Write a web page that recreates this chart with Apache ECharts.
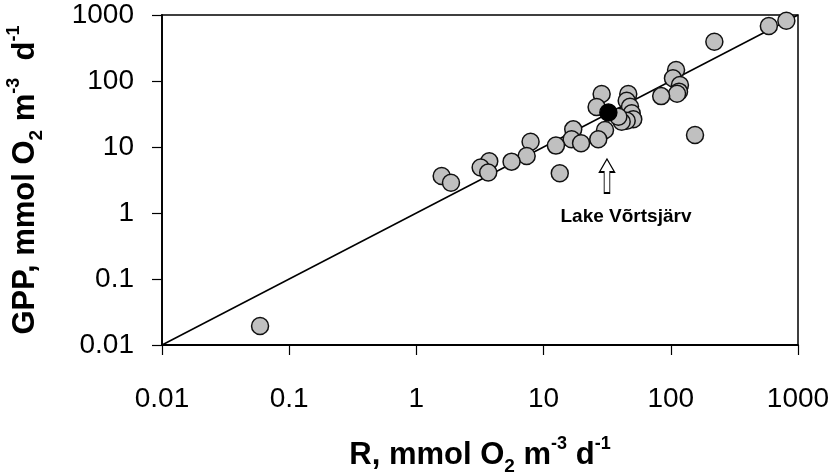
<!DOCTYPE html>
<html>
<head>
<meta charset="utf-8">
<script src="https://cdn.jsdelivr.net/npm/echarts@6/dist/echarts.min.js"></script>
<style>html,body{margin:0;padding:0;background:#fff}#c{width:837px;height:474px}</style>
</head>
<body>
<div id="c"></div>
<script>
// R (x) and GPP (y) values, mmol O2 m-3 d-1
const lakesR   = [810, 590, 220, 110, 104, 118, 116, 112, 84, 155,
                  28.6, 46.3, 45, 26.1, 47.8, 49.3, 50.7, 45, 41.1, 30.4,
                  26.9, 17.1, 16.6, 19.7, 12.5, 13.4, 7.9, 7.36, 5.6, 3.74,
                  3.2, 3.67, 1.58, 1.87, 0.059, 38.7];
const lakesGPP = [820, 680, 394, 147, 110, 87, 69, 64, 59, 15.2,
                  63.5, 63.5, 50.3, 40.4, 40.8, 32.4, 26.3, 25, 24.2, 18.1,
                  13.1, 18.5, 13.1, 11.4, 10.5, 4.0, 12.0, 7.3, 6.0, 6.1,
                  4.9, 4.1, 3.64, 2.88, 0.0194, 28.8];
const vortsjarvR = [32.3];
const vortsjarvGPP = [33.3];
const lineR = [0.01, 1000];
const lineGPP = [0.01, 1000];
const arrowPos = [31.5, 3.64];
const tickLabels = ['0.01', '0.1', '1', '10', '100', '1000'];

const chart = echarts.init(document.getElementById('c'), null, {renderer: 'canvas'});
const font = 'Arial, "Liberation Sans", sans-serif';
const pairs = (a, b) => a.map((v, i) => [v, b[i]]);
const fmt = v => {
  const s = tickLabels.find(t => Math.abs(parseFloat(t) - v) / v < 1e-6);
  return s || '';
};
const richT = (size) => ({
  b: {fontFamily: font, fontWeight: 'bold', fontSize: size, color: '#000', lineHeight: size + 10},
  sub: {fontFamily: font, fontWeight: 'bold', fontSize: Math.round(size * 0.62), color: '#000', verticalAlign: 'bottom', lineHeight: size + 10},
  sup: {fontFamily: font, fontWeight: 'bold', fontSize: Math.round(size * 0.58), color: '#000', verticalAlign: 'top', lineHeight: size + 10}
});

chart.setOption({
  animation: false,
  backgroundColor: '#fff',
  grid: {left: 162, right: 39, top: 15, bottom: 129, outerBoundsMode: 'none', containLabel: false,
         show: true, borderColor: '#000', borderWidth: 1.5, backgroundColor: 'transparent'},
  xAxis: {
    type: 'log', logBase: 10, min: 0.01, max: 1000,
    axisLine: {lineStyle: {color: '#000', width: 1.8}},
    axisTick: {show: true, length: 10, inside: false, lineStyle: {color: '#000', width: 1.2}},
    minorTick: {show: false},
    splitLine: {show: false},
    axisLabel: {formatter: fmt, fontFamily: font, fontSize: 28, color: '#000', margin: 40},
    name: '{b|R, mmol O}{sub|2}{b| m}{sup|-3}{b| d}{sup|-1}',
    nameLocation: 'middle', nameGap: 90,
    nameTextStyle: {rich: richT(31)}
  },
  yAxis: {
    type: 'log', logBase: 10, min: 0.01, max: 1000,
    axisLine: {lineStyle: {color: '#000', width: 1.8}},
    axisTick: {show: true, length: 10, inside: false, lineStyle: {color: '#000', width: 1.2}},
    splitLine: {show: false},
    axisLabel: {formatter: fmt, fontFamily: font, fontSize: 28, color: '#000', margin: 28},
    name: '{b|GPP, mmol O}{sub|2}{b| m}{sup|-3}{b|  d}{sup|-1}',
    nameLocation: 'middle', nameGap: 116, nameRotate: 90,
    nameTextStyle: {rich: richT(31)}
  },
  series: [
    {type: 'line', data: pairs(lineR, lineGPP), showSymbol: false, symbol: 'none',
     lineStyle: {color: '#000', width: 1.5}, z: 1},
    {type: 'scatter', data: pairs(lakesR, lakesGPP), symbol: 'circle', symbolSize: 17,
     itemStyle: {color: '#c0c0c0', borderColor: '#111', borderWidth: 1.5, opacity: 1}, z: 2},
    {type: 'scatter', data: pairs(vortsjarvR, vortsjarvGPP), symbol: 'circle', symbolSize: 17,
     itemStyle: {color: '#000', borderColor: '#000', borderWidth: 1.5, opacity: 1}, z: 3},
    {type: 'scatter', data: [arrowPos],
     symbol: 'path://M8,0 L16,13 L11,13 L11,34 L5,34 L5,13 L0,13 Z', symbolSize: [15, 34], symbolKeepAspect: false,
     itemStyle: {color: '#fff', borderColor: '#000', borderWidth: 1.3, opacity: 1},
     label: {show: true, formatter: 'Lake Võrtsjärv', position: 'bottom', distance: 13, offset: [19, 0],
             fontFamily: font, fontWeight: 'bold', fontSize: 19, color: '#000', opacity: 1, textBorderWidth: 0},
     z: 4, silent: true}
  ]
});
</script>
</body>
</html>
